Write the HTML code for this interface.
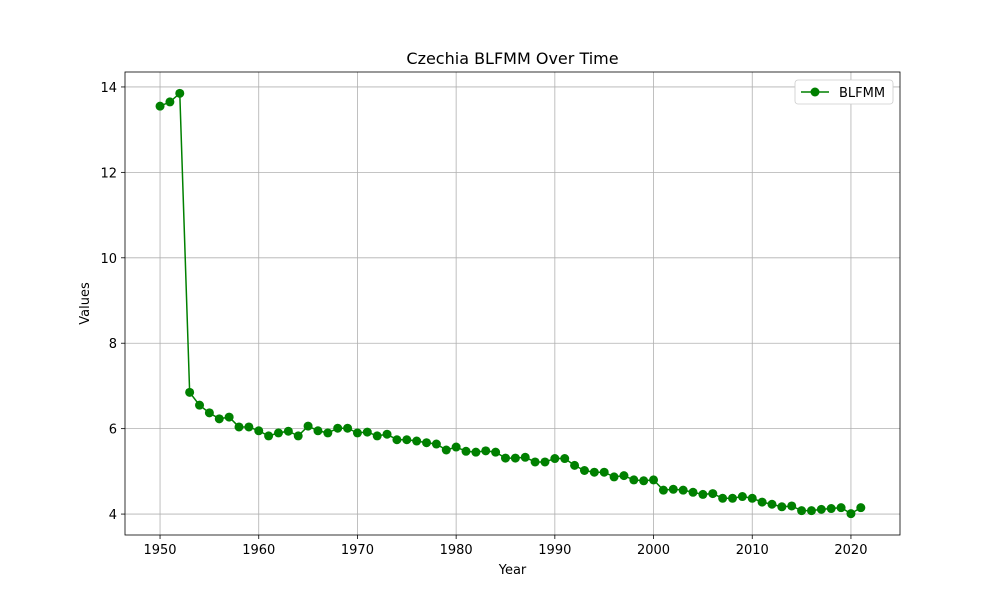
<!DOCTYPE html>
<html><head><meta charset="utf-8"><style>
body{margin:0;background:#fff;font-family:"Liberation Sans","DejaVu Sans",sans-serif}
</style></head><body>
<svg id="chart" width="1000" height="600" xmlns="http://www.w3.org/2000/svg" font-family="DejaVu Sans, Liberation Sans, sans-serif">
<rect width="1000" height="600" fill="#fff"/>
<g id="grid"></g><g id="series"></g><g id="axes"></g>
</svg>
<script>
const years=[];for(let y=1950;y<=2021;y++)years.push(y);
const values=[13.55,13.65,13.85,6.85,6.55,6.37,6.23,6.27,6.04,6.04,5.95,5.83,5.90,5.94,5.83,6.06,5.95,5.90,6.01,6.01,5.90,5.92,5.83,5.87,5.74,5.74,5.71,5.67,5.64,5.50,5.57,5.47,5.45,5.48,5.45,5.31,5.31,5.33,5.22,5.22,5.30,5.30,5.14,5.02,4.98,4.98,4.87,4.90,4.80,4.78,4.80,4.56,4.58,4.56,4.51,4.46,4.48,4.37,4.37,4.41,4.37,4.28,4.23,4.17,4.19,4.08,4.08,4.11,4.13,4.15,4.01,4.15];
const xTicks=[1950,1960,1970,1980,1990,2000,2010,2020];
const yTicks=[4,6,8,10,12,14];
const L=125,R=900,T=72,B=535;
const xMin=1946.45,xMax=2024.97,yMin=3.51,yMax=14.35;
const X=v=>L+(v-xMin)/(xMax-xMin)*(R-L);
const Y=v=>B-(v-yMin)/(yMax-yMin)*(B-T);
const NS="http://www.w3.org/2000/svg";
function mk(p,t,a){const e=document.createElementNS(NS,t);for(const k in a)e.setAttribute(k,a[k]);p.appendChild(e);return e;}
const grid=document.getElementById('grid'),ser=document.getElementById('series'),ax=document.getElementById('axes');
xTicks.forEach(t=>{const x=X(t);
const g=mk(grid,'line',{x1:x,x2:x,y1:T,y2:B,stroke:'#b0b0b0','stroke-width':0.8});

mk(ax,'line',{x1:x,x2:x,y1:B,y2:B+4,stroke:'#000','stroke-width':0.8});
const tx=mk(ax,'text',{x:x,y:B+19,'text-anchor':'middle','font-size':13});tx.textContent=t;
});
yTicks.forEach(t=>{const y=Y(t);
const g=mk(grid,'line',{x1:L,x2:R,y1:y,y2:y,stroke:'#b0b0b0','stroke-width':0.8});

mk(ax,'line',{x1:L-4,x2:L,y1:y,y2:y,stroke:'#000','stroke-width':0.8});
const tx=mk(ax,'text',{x:L-8,y:y+5,'text-anchor':'end','font-size':13});tx.textContent=t;
});
const pts=years.map((y,i)=>X(y)+','+Y(values[i])).join(' ');
const pl=mk(ser,'polyline',{points:pts,fill:'none',stroke:'#008000','stroke-width':1.5});

years.forEach((y,i)=>{const c=mk(ser,'circle',{cx:X(y),cy:Y(values[i]),r:4.5,fill:'#008000'});
});
const fr=mk(ax,'rect',{x:L,y:T,width:R-L,height:B-T,fill:'none',stroke:'#000','stroke-width':0.8});

let t=mk(ax,'text',{x:(L+R)/2,y:64,'text-anchor':'middle','font-size':16});t.textContent='Czechia BLFMM Over Time';

t=mk(ax,'text',{x:(L+R)/2,y:574,'text-anchor':'middle','font-size':13});t.textContent='Year';

t=mk(ax,'text',{x:89,y:(T+B)/2,'text-anchor':'middle','font-size':13,transform:'rotate(-90 89 '+((T+B)/2)+')'});t.textContent='Values';

const lg=mk(ax,'g',{});
mk(lg,'rect',{x:795,y:80,width:98,height:24,rx:3,fill:'#fff',stroke:'#ccc','stroke-width':0.8});
mk(lg,'line',{x1:801,x2:829,y1:92,y2:92,stroke:'#008000','stroke-width':1.5});
mk(lg,'circle',{cx:815,cy:92,r:4.5,fill:'#008000'});
t=mk(lg,'text',{x:839,y:97,'font-size':13});t.textContent='BLFMM';

</script>
</body></html>
